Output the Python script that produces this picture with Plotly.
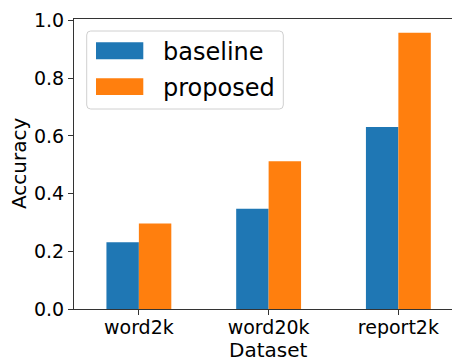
import plotly.graph_objects as go

categories = ["word2k", "word20k", "report2k"]
series_names = ["baseline", "proposed"]
baseline = [0.231, 0.347, 0.631]
proposed = [0.296, 0.512, 0.957]
y_ticks = [0.0, 0.2, 0.4, 0.6, 0.8, 1.0]
colors = ["#1f77b4", "#ff7f0e"]

OFF = 8  # default page body margin
W, H = 460 - OFF, 360 - OFF
L, R, T, B = 74 - OFF, 0, 19 - OFF, 51
pw, ph = W - L - R, H - T - B

def px(x):
    # x in page pixels -> paper coordinate
    return (x - OFF - L) / pw

def py(y):
    return (H - B - (y - OFF)) / ph

xs = list(range(len(categories)))
fig = go.Figure()
for name, vals, c in zip(series_names, [baseline, proposed], colors):
    fig.add_trace(go.Bar(x=xs, y=vals, name=name, marker=dict(color=c, line=dict(width=0)),
                         showlegend=False))

font = "DejaVu Sans"
fig.update_layout(
    width=W, height=H,
    margin=dict(l=L, r=R, t=T, b=B, autoexpand=False),
    plot_bgcolor="white", paper_bgcolor="white",
    barmode="group", bargap=0.5, bargroupgap=0,
    font=dict(family=font, color="black"),
    xaxis=dict(range=[-0.5, 2.475], tickvals=xs, ticktext=categories,
               showline=True, mirror=True, linecolor="#333", linewidth=1,
               ticks="outside", ticklen=5, tickcolor="#333",
               showgrid=False, zeroline=False, automargin=False,
               ticklabelstandoff=-4,
               tickfont=dict(size=19, family=font)),
    yaxis=dict(range=[0, 1.005], tickvals=y_ticks, ticktext=[f"{v:.1f}" for v in y_ticks],
               showline=True, linecolor="#333", linewidth=1,
               ticks="outside", ticklen=5, tickcolor="#333",
               showgrid=False, zeroline=False, automargin=False,
               tickfont=dict(size=19, family=font)),
)

# axis titles
fig.add_annotation(x=px(268), y=py(349.5), xref="paper", yref="paper", text="Dataset",
                   showarrow=False, xanchor="center", yanchor="middle", borderpad=0,
                   font=dict(size=20, family=font, color="black"))
fig.add_annotation(x=px(19), y=py(164), xref="paper", yref="paper", text="Accuracy",
                   showarrow=False, xanchor="center", yanchor="middle", textangle=-90,
                   font=dict(size=20, family=font, color="black"))

# legend drawn manually to match matplotlib-style patches
bx0, bx1, by0, by1 = 86.7, 283.3, 31, 109
r = 4
x0, x1 = px(bx0), px(bx1)
y0, y1 = py(by1), py(by0)
rx, ry = r / pw, r / ph
path = (f"M {x0+rx},{y0} L {x1-rx},{y0} Q {x1},{y0} {x1},{y0+ry} "
        f"L {x1},{y1-ry} Q {x1},{y1} {x1-rx},{y1} L {x0+rx},{y1} Q {x0},{y1} {x0},{y1-ry} "
        f"L {x0},{y0+ry} Q {x0},{y0} {x0+rx},{y0} Z")
fig.add_shape(type="path", path=path, xref="paper", yref="paper",
              line=dict(color="#d0d0d0", width=1), fillcolor="rgba(255,255,255,0.85)")
patch_rows = [(42.3, 59.3), (78.3, 95.0)]
for (t, b), name, c in zip(patch_rows, series_names, colors):
    fig.add_shape(type="rect", xref="paper", yref="paper",
                  x0=px(96), x1=px(143.3), y0=py(b), y1=py(t),
                  line=dict(width=0), fillcolor=c)
    fig.add_annotation(x=px(161), y=py((t + b) / 2 + 1), xref="paper", yref="paper",
                       text=name, showarrow=False, xanchor="left", yanchor="middle",
                       font=dict(size=24, family=font, color="black"))

fig.write_html("out.html")
